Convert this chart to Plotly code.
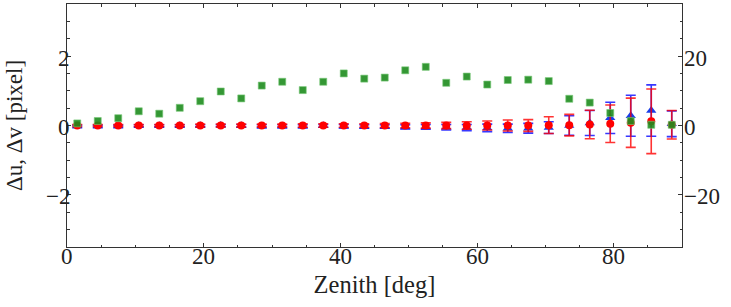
import plotly.graph_objects as go

zenith = [1.5, 4.5, 7.5, 10.5, 13.5, 16.5, 19.5, 22.5, 25.5, 28.5,
          31.5, 34.5, 37.5, 40.5, 43.5, 46.5, 49.5, 52.5, 55.5, 58.5,
          61.5, 64.5, 67.5, 70.5, 73.5, 76.5, 79.5, 82.5, 85.5, 88.5]

du = [-0.02, -0.02, -0.02, -0.01, -0.01, -0.01, -0.01, 0.0, -0.01, -0.02,
      -0.02, -0.02, -0.01, -0.02, -0.03, -0.03, -0.04, -0.04, -0.05, -0.06,
      -0.07, -0.08, -0.08, -0.06, 0.0, 0.07, 0.22, 0.28, 0.43, 0.05]
du_err = [0.03, 0.03, 0.03, 0.03, 0.03, 0.03, 0.03, 0.03, 0.04, 0.04,
          0.04, 0.04, 0.04, 0.05, 0.05, 0.05, 0.06, 0.07, 0.08, 0.09,
          0.11, 0.12, 0.14, 0.17, 0.28, 0.36, 0.45, 0.59, 0.74, 0.37]

dv = [0.0, 0.0, 0.0, 0.0, 0.0, 0.0, 0.0, 0.0, 0.0, 0.0,
      0.0, 0.0, 0.0, 0.0, 0.0, 0.0, 0.0, 0.0, 0.0, 0.0,
      0.0, 0.0, 0.0, 0.01, 0.01, 0.03, 0.05, 0.08, 0.12, 0.02]
dv_err = [0.03, 0.03, 0.03, 0.03, 0.03, 0.03, 0.04, 0.04, 0.04, 0.04,
          0.04, 0.05, 0.05, 0.05, 0.05, 0.057, 0.066, 0.076, 0.09, 0.11,
          0.13, 0.16, 0.17, 0.24, 0.31, 0.41, 0.54, 0.71, 0.93, 0.41]

green = [0.6, 1.3, 2.1, 4.1, 3.4, 5.1, 7.0, 9.8, 7.8, 11.5,
         12.6, 10.2, 12.6, 15.0, 13.5, 13.8, 15.9, 16.9, 12.3, 14.1,
         11.8, 13.1, 13.2, 12.8, 7.7, 6.6, 3.6, 1.3, 0.2, 0.2]

xtick_vals = [0, 20, 40, 60, 80]
xtick_text = ["0", "20", "40", "60", "80"]
ytick_vals = [-2, 0, 2]
ytick_text = ["\u22122", "0", "2"]
y2tick_vals = [-20, 0, 20]
y2tick_text = ["\u221220", "0", "20"]

FONT = "'Liberation Serif', 'Times New Roman', 'DejaVu Serif', serif"
AX = "#333333"
TXT = "#222222"

fig = go.Figure()
fig.add_trace(go.Scatter(
    x=zenith, y=du, mode="markers",
    marker=dict(symbol="triangle-up", size=9, color="rgba(0,40,230,0.9)"),
    error_y=dict(type="data", array=du_err, color="rgba(20,20,255,0.85)",
                 thickness=1.6, width=5),
    showlegend=False))
fig.add_trace(go.Scatter(
    x=zenith, y=dv, mode="markers",
    marker=dict(symbol="circle", size=8, color="rgba(255,0,0,1)"),
    error_y=dict(type="data", array=dv_err, color="rgba(255,0,0,0.8)",
                 thickness=1.6, width=5),
    showlegend=False))
fig.add_trace(go.Scatter(
    x=zenith, y=green, mode="markers", yaxis="y2",
    marker=dict(symbol="square", size=7, color="rgba(30,140,30,0.9)",
                line=dict(width=1, color="rgba(120,200,120,0.6)")),
    showlegend=False))

annotations = []
for v, t in zip(xtick_vals, xtick_text):
    annotations.append(dict(x=v, xref="x", y=0, yref="paper", text=t,
                            showarrow=False, xanchor="center", yanchor="middle",
                            yshift=-9, font=dict(size=23, color=TXT)))
for v, t in zip(ytick_vals, ytick_text):
    annotations.append(dict(x=0, xref="paper", y=v, yref="y", text=t,
                            showarrow=False, xanchor="right", yanchor="middle",
                            xshift=5, yshift=-2, font=dict(size=23, color=TXT)))
for v, t in zip(y2tick_vals, y2tick_text):
    annotations.append(dict(x=1, xref="paper", y=v, yref="y2", text=t,
                            showarrow=False, xanchor="left", yanchor="middle",
                            xshift=0, yshift=-2, font=dict(size=23, color=TXT)))

fig.update_layout(
    width=731, height=307,
    margin=dict(l=67, r=49, t=4, b=60, autoexpand=False),
    paper_bgcolor="white", plot_bgcolor="white",
    font=dict(family=FONT, size=23, color=TXT),
    annotations=annotations,
    xaxis=dict(range=[0, 90], tickvals=xtick_vals, showticklabels=False,
               ticks="inside", ticklen=4,
               tickcolor=AX, showline=True, linecolor=AX, linewidth=1,
               mirror="ticks", showgrid=False, zeroline=False,
               minor=dict(dtick=5, ticks="inside", ticklen=2.5, tickcolor=AX),
               title=dict(text="Zenith [deg]", font=dict(size=24.5), standoff=28)),
    yaxis=dict(range=[-3.5, 3.5], tickvals=ytick_vals, showticklabels=False,
               ticks="inside", ticklen=4,
               tickcolor=AX, showline=True, linecolor=AX, linewidth=1,
               showgrid=False, zeroline=False,
               minor=dict(dtick=0.5, ticks="inside", ticklen=2.5, tickcolor=AX),
               title=dict(text="Δu, Δv [pixel]", font=dict(size=23), standoff=36)),
    yaxis2=dict(range=[-35, 35], tickvals=y2tick_vals, showticklabels=False,
                overlaying="y", side="right",
                ticks="inside", ticklen=4, tickcolor=AX, showline=True,
                linecolor=AX, linewidth=1, showgrid=False, zeroline=False,
                minor=dict(dtick=5, ticks="inside", ticklen=2.5, tickcolor=AX)),
)

fig.write_html("out.html", config={"displayModeBar": False},
               post_script="document.body.style.margin='0';document.body.style.padding='0';")
